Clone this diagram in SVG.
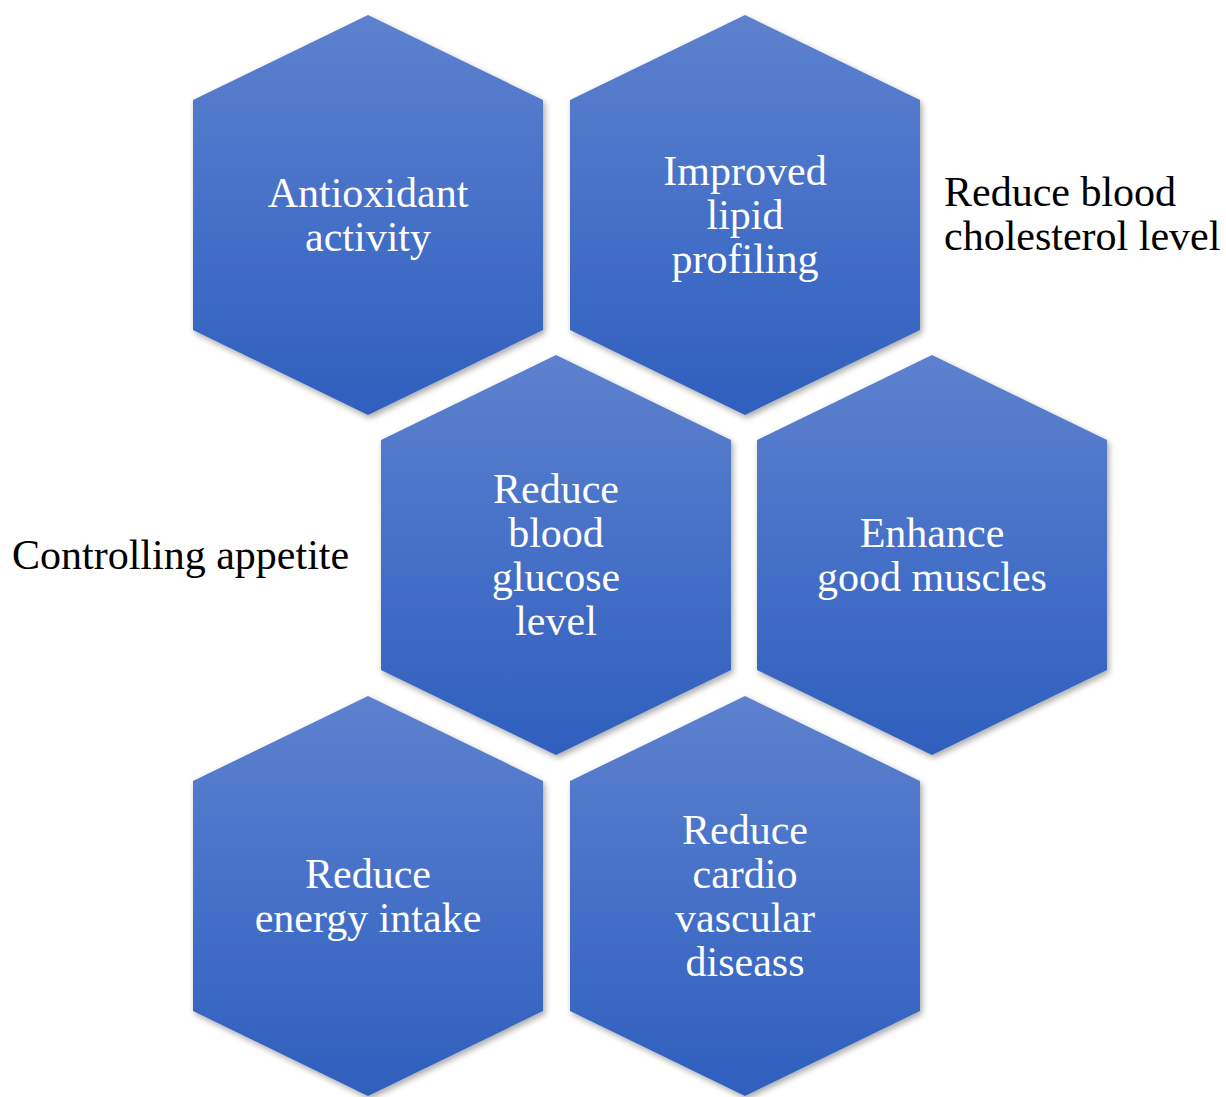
<svg xmlns="http://www.w3.org/2000/svg" xmlns:xlink="http://www.w3.org/1999/xlink" width="1226" height="1097" viewBox="0 0 1226 1097">
  <style>
    .hex { fill: url(#hexGrad); filter: url(#shadow); }
    .w { font-family: "Liberation Serif", "Times New Roman", serif; font-size: 42px; fill: #ffffff; text-anchor: middle; }
    .b { font-family: "Liberation Serif", "Times New Roman", serif; font-size: 42px; fill: #000000; }
  </style>
  <defs>
    <linearGradient id="hexGrad" x1="0" y1="0" x2="0" y2="1">
      <stop offset="0" stop-color="#5d81cd"/>
      <stop offset="0.5" stop-color="#4570c8"/>
      <stop offset="1" stop-color="#2f5fbd"/>
    </linearGradient>
    <filter id="shadow" x="-10%" y="-10%" width="125%" height="125%">
      <feGaussianBlur in="SourceAlpha" stdDeviation="3"/>
      <feOffset dx="2" dy="3" result="ob"/>
      <feComponentTransfer><feFuncA type="linear" slope="0.35"/></feComponentTransfer>
      <feMerge><feMergeNode/><feMergeNode in="SourceGraphic"/></feMerge>
    </filter>
    <path id="hexShape" d="M175,0 L350,85 L350,315 L175,400 L0,315 L0,85 Z"/>
  </defs>
  <rect width="1226" height="1097" fill="#ffffff"/>

  <g id="connectors"></g>

  <g id="hex-antioxidant">
    <use xlink:href="#hexShape" href="#hexShape" class="hex" transform="translate(193,15)"/>
    <text class="w" x="368" y="207">Antioxidant</text>
    <text class="w" x="368" y="251">activity</text>
  </g>

  <g id="hex-lipid">
    <use xlink:href="#hexShape" href="#hexShape" class="hex" transform="translate(570,15)"/>
    <text class="w" x="745" y="185">Improved</text>
    <text class="w" x="745" y="229">lipid</text>
    <text class="w" x="745" y="273">profiling</text>
  </g>

  <g id="hex-glucose">
    <use xlink:href="#hexShape" href="#hexShape" class="hex" transform="translate(381,355)"/>
    <text class="w" x="556" y="503">Reduce</text>
    <text class="w" x="556" y="547">blood</text>
    <text class="w" x="556" y="591">glucose</text>
    <text class="w" x="556" y="635">level</text>
  </g>

  <g id="hex-muscles">
    <use xlink:href="#hexShape" href="#hexShape" class="hex" transform="translate(757,355)"/>
    <text class="w" x="932" y="547">Enhance</text>
    <text class="w" x="932" y="591">good muscles</text>
  </g>

  <g id="hex-energy">
    <use xlink:href="#hexShape" href="#hexShape" class="hex" transform="translate(193,696)"/>
    <text class="w" x="368" y="888">Reduce</text>
    <text class="w" x="368" y="932">energy intake</text>
  </g>

  <g id="hex-cardio">
    <use xlink:href="#hexShape" href="#hexShape" class="hex" transform="translate(570,696)"/>
    <text class="w" x="745" y="844">Reduce</text>
    <text class="w" x="745" y="888">cardio</text>
    <text class="w" x="745" y="932">vascular</text>
    <text class="w" x="745" y="976">diseass</text>
  </g>

  <g id="label-cholesterol">
    <text class="b" x="944" y="206">Reduce blood</text>
    <text class="b" x="944" y="250">cholesterol level</text>
  </g>

  <g id="label-appetite">
    <text class="b" x="12" y="569">Controlling appetite</text>
  </g>
</svg>
